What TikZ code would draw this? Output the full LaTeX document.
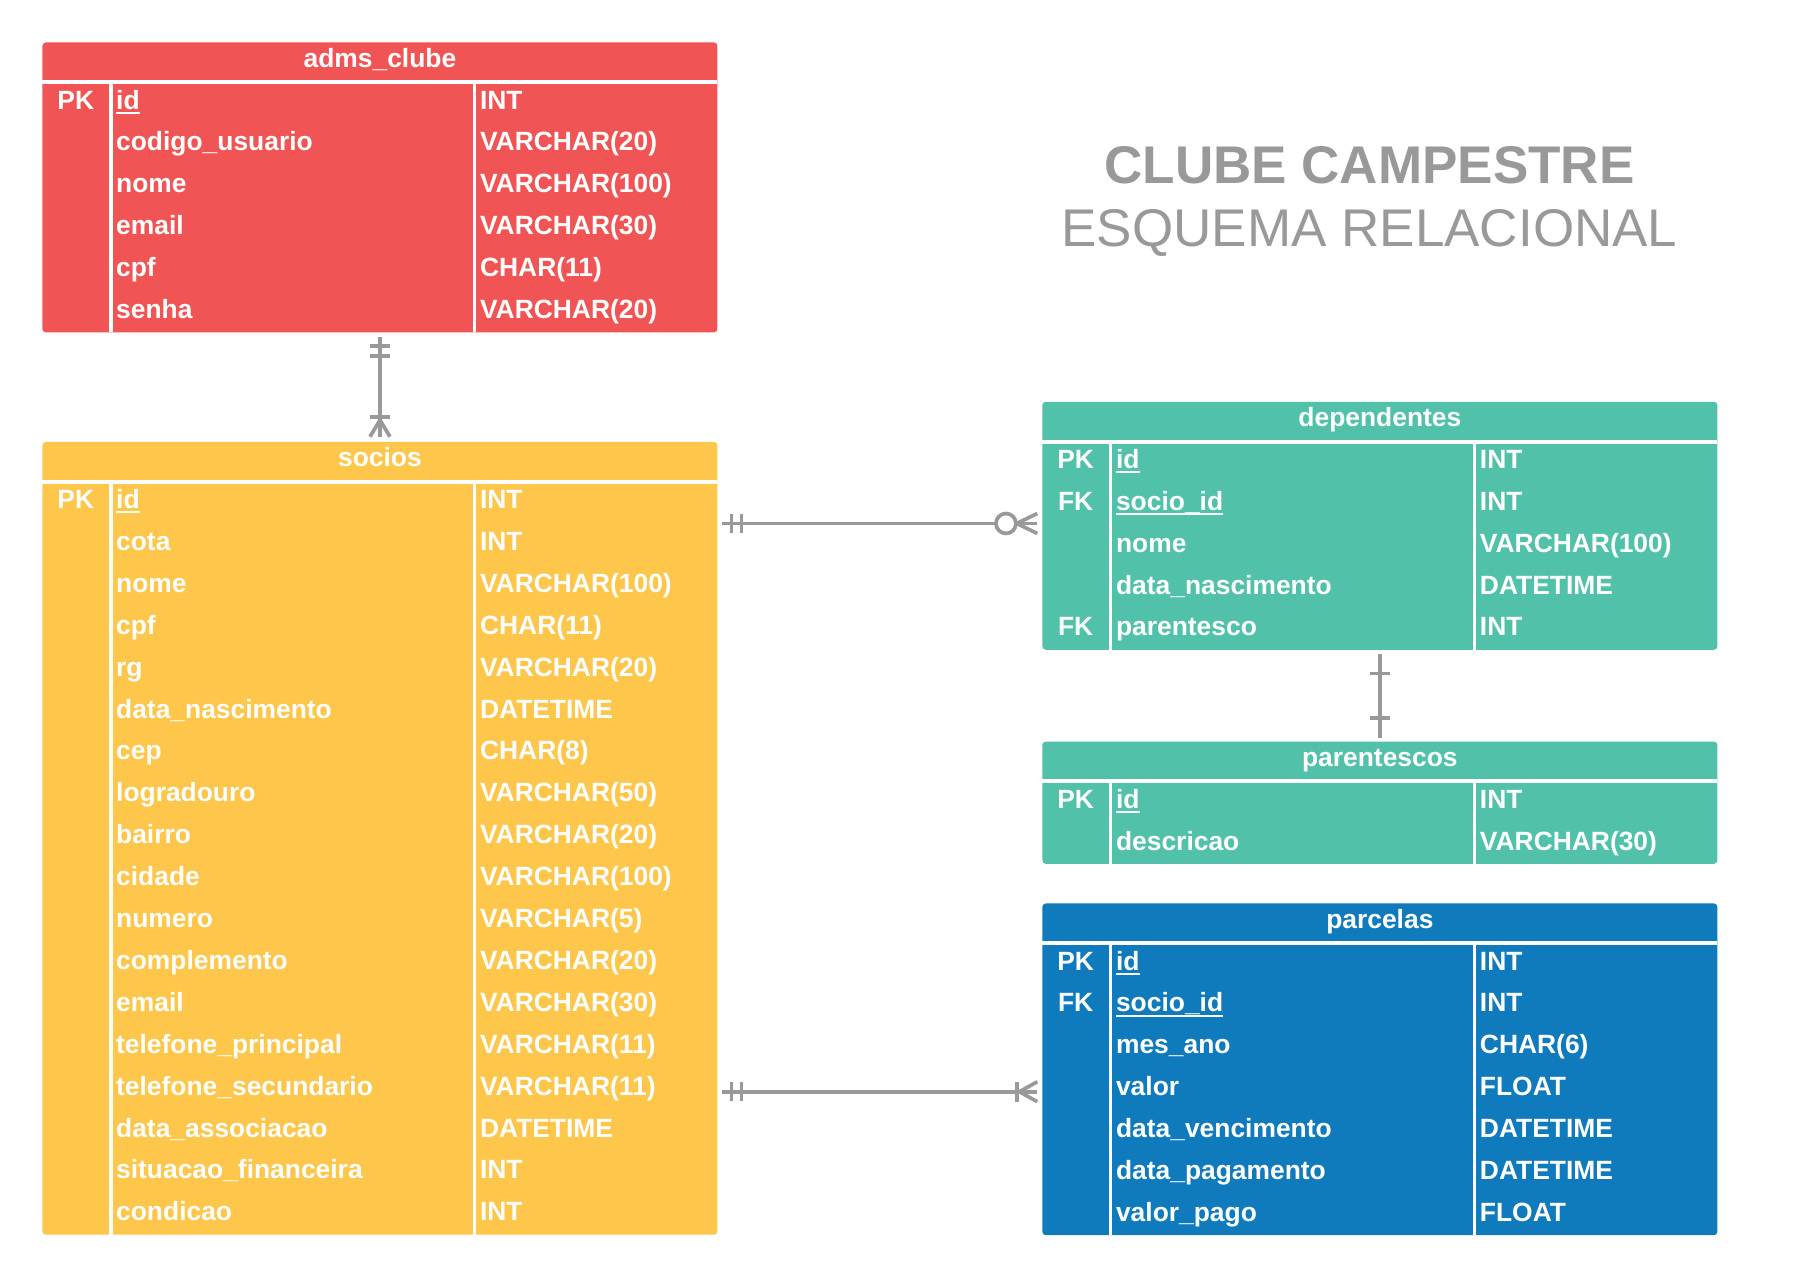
\documentclass[tikz,border=0pt]{standalone}
\usepackage{fontspec}
\setmainfont{Liberation Sans}
\usetikzlibrary{calc}

\definecolor{admred}{HTML}{F15454}
\definecolor{socyellow}{HTML}{FEC64A}
\definecolor{depteal}{HTML}{52C1A9}
\definecolor{parblue}{HTML}{0F7BBD}
\definecolor{linkgray}{HTML}{999999}

% key attribute: text with a rule under it
\newcommand{\keyul}[1]{\setbox0\hbox{#1}\rlap{\rule[-4.1pt]{\wd0}{1.7pt}}\box0}
\newcommand{\nokey}{}

% one entity table: name, left x, top y, number of rows, colour, title, rows
\newcommand{\erdtable}[7]{%
  \node[tablebox, fill=#5, minimum height={70+(#4-1)*36.5}, anchor=north west] (#1) at (#2,#3) {};
  \fill[white] ($(#1.north west)+(0,33)$) rectangle ($(#1.north east)+(0,36.5)$);
  \fill[white] ($(#1.north west)+(58,36.5)$) rectangle ($(#1.south west)+(61,0)$);
  \fill[white] ($(#1.north west)+(375,36.5)$) rectangle ($(#1.south west)+(378,0)$);
  \node[celltext, anchor=base] (#1-title) at ($(#1.north)+(0,21.5)$) {#6};
  \foreach \rk/\rn/\rt [count=\i] in {#7} {
    \node[celltext, anchor=base] (#1-k\i) at ($(#1.north west)+(29,{58+(\i-1)*36.5})$) {\rk};
    \node[celltext, anchor=base west] (#1-n\i) at ($(#1.north west)+(64,{58+(\i-1)*36.5})$) {\rn};
    \node[celltext, anchor=base west] (#1-t\i) at ($(#1.north west)+(381,{58+(\i-1)*36.5})$) {\rt};
  }%
}

\begin{document}
\begin{tikzpicture}[x=1pt, y=-1pt,
  tablebox/.style={rectangle, draw=none, rounded corners=3pt, minimum width=588pt, inner sep=0pt, outer sep=0pt},
  celltext/.style={text=white, font=\fontsize{23}{27}\selectfont\bfseries, inner sep=0pt},
  titlebold/.style={text=linkgray, font=\fontsize{46.2}{55}\selectfont\bfseries, inner sep=0pt},
  titlereg/.style={text=linkgray, font=\fontsize{46.2}{55}\selectfont, inner sep=0pt},
  link/.style={draw=linkgray, line width=3.2pt, line join=round}]

\useasboundingbox (0,0) rectangle (1568,1113);

% title
\node[titlebold, anchor=base] (title1) at (1193,159.7) {CLUBE CAMPESTRE};
\node[titlereg, anchor=base] (title2) at (1193,215) {ESQUEMA RELACIONAL};

% entities
\erdtable{adms}{37}{37}{6}{admred}{adms\_clube}{%
  PK/\keyul{id}/INT,
  \nokey/codigo\_usuario/VARCHAR(20),
  \nokey/nome/VARCHAR(100),
  \nokey/email/VARCHAR(30),
  \nokey/cpf/CHAR(11),
  \nokey/senha/VARCHAR(20)}

\erdtable{socios}{37}{385}{18}{socyellow}{socios}{%
  PK/\keyul{id}/INT,
  \nokey/cota/INT,
  \nokey/nome/VARCHAR(100),
  \nokey/cpf/CHAR(11),
  \nokey/rg/VARCHAR(20),
  \nokey/data\_nascimento/DATETIME,
  \nokey/cep/CHAR(8),
  \nokey/logradouro/VARCHAR(50),
  \nokey/bairro/VARCHAR(20),
  \nokey/cidade/VARCHAR(100),
  \nokey/numero/VARCHAR(5),
  \nokey/complemento/VARCHAR(20),
  \nokey/email/VARCHAR(30),
  \nokey/telefone\_principal/VARCHAR(11),
  \nokey/telefone\_secundario/VARCHAR(11),
  \nokey/data\_associacao/DATETIME,
  \nokey/situacao\_financeira/INT,
  \nokey/condicao/INT}

\erdtable{dependentes}{908}{350}{5}{depteal}{dependentes}{%
  PK/\keyul{id}/INT,
  FK/\keyul{socio\_id}/INT,
  \nokey/nome/VARCHAR(100),
  \nokey/data\_nascimento/DATETIME,
  FK/parentesco/INT}

\erdtable{parentescos}{908}{646}{2}{depteal}{parentescos}{%
  PK/\keyul{id}/INT,
  \nokey/descricao/VARCHAR(30)}

\erdtable{parcelas}{908}{787}{7}{parblue}{parcelas}{%
  PK/\keyul{id}/INT,
  FK/\keyul{socio\_id}/INT,
  \nokey/mes\_ano/CHAR(6),
  \nokey/valor/FLOAT,
  \nokey/data\_vencimento/DATETIME,
  \nokey/data\_pagamento/DATETIME,
  \nokey/valor\_pago/FLOAT}

% adms_clube (exactly one) -- socios (one or many)
\coordinate (l1a) at ($(adms.south)+(0,3.7)$);
\coordinate (l1b) at ($(socios.north)+(0,-4.6)$);
\draw[link] (l1a) -- (l1b);
\draw[link] ($(l1a)+(-8.7,8.3)$) -- ++(17.4,0);
\draw[link] ($(l1a)+(-8.7,16.8)$) -- ++(17.4,0);
\draw[link] ($(l1b)+(-8.7,-17.4)$) -- ++(17.4,0);
\draw[link] ($(l1b)+(-8.7,0)$) -- ($(l1b)+(0,-14.4)$) -- ($(l1b)+(8.7,0)$);

% socios (exactly one) -- dependentes (zero or many)
\coordinate (l2a) at ($(socios.north east)+(4,71)$);
\coordinate (l2b) at ($(dependentes.north west)+(-4.4,106)$);
\draw[link] (l2a) -- (l2b);
\draw[link] ($(l2a)+(8.3,-8.4)$) -- ++(0,16.8);
\draw[link] ($(l2a)+(17,-8.4)$) -- ++(0,16.8);
\draw[link, fill=white] ($(l2b)+(-27.3,0)$) circle[radius=8.7pt];
\draw[link] ($(l2b)+(0,-8.7)$) -- ($(l2b)+(-18,0)$) -- ($(l2b)+(0,8.7)$);

% socios (exactly one) -- parcelas (one or many)
\coordinate (l3a) at ($(socios.north east)+(4,566)$);
\coordinate (l3b) at ($(parcelas.north west)+(-4.4,164)$);
\draw[link] (l3a) -- (l3b);
\draw[link] ($(l3a)+(8.3,-8.4)$) -- ++(0,16.8);
\draw[link] ($(l3a)+(17,-8.4)$) -- ++(0,16.8);
\draw[link] ($(l3b)+(-17.6,-8.7)$) -- ++(0,17.4);
\draw[link] ($(l3b)+(0,-8.7)$) -- ($(l3b)+(-15.6,0)$) -- ($(l3b)+(0,8.7)$);

% dependentes (one) -- parentescos (one)
\coordinate (l4a) at ($(dependentes.south)+(0,3.7)$);
\coordinate (l4b) at ($(parentescos.north)+(0,-3.4)$);
\draw[link] (l4a) -- (l4b);
\draw[link] ($(l4a)+(-8.7,17.1)$) -- ++(17.4,0);
\draw[link] ($(l4b)+(-8.7,-17.4)$) -- ++(17.4,0);

\end{tikzpicture}
\end{document}
